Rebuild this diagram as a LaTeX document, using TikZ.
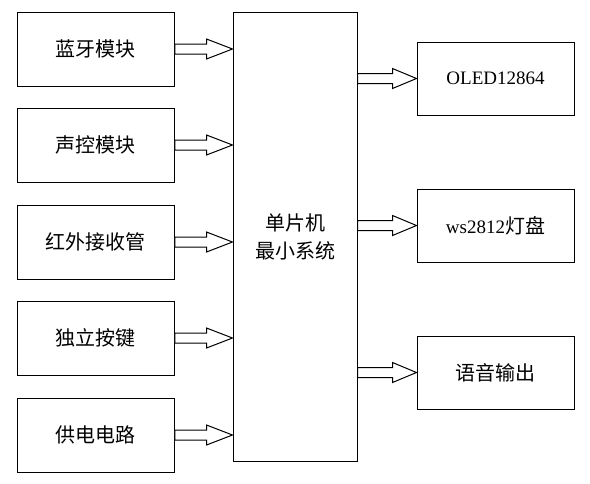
\documentclass[tikz,border=0pt]{standalone}
\usepackage{fontspec}
\setmainfont{Liberation Serif}
\newfontfamily\cjk{Noto Sans CJK SC}
\usetikzlibrary{calc}
\tikzset{
  box/.style={draw=black, line width=1pt, fill=white, inner sep=0pt, align=center,
    font=\fontsize{19}{28}\selectfont},
  lbox/.style={box, minimum width=157pt, minimum height=74pt},
  rbox/.style={box, minimum width=157pt, minimum height=73pt},
  fat/.style={draw=black, line width=1pt, fill=white, line join=miter},
}
\newcommand{\cj}{\cjk\fontsize{20}{28}\selectfont}
% block arrow from node #1 (east) to node #2 (west), at the height of node #3, head length #4
\newcommand{\blockarr}[4]{%
  \draw[fat] let \p1=(#1.east), \p2=(#2.west), \p3=(#3.center) in
    (\x1,\y3+5pt) -- (\x2-#4,\y3+5pt) -- (\x2-#4,\y3+10pt) -- (\x2,\y3)
    -- (\x2-#4,\y3-10pt) -- (\x2-#4,\y3-5pt) -- (\x1,\y3-5pt) -- cycle;}
\begin{document}
\begin{tikzpicture}[x=1pt,y=-1pt]
\useasboundingbox (0,0) rectangle (590,483);
\node[lbox] (l1) at (95.75,49) {\cj 蓝牙模块};
\node[lbox] (l2) at (95.75,145) {\cj 声控模块};
\node[lbox] (l3) at (95.75,242) {\cj 红外接收管};
\node[lbox] (l4) at (95.75,338) {\cj 独立按键};
\node[lbox] (l5) at (95.75,435) {\cj 供电电路};
\node[box, minimum width=124pt, minimum height=449pt] (mcu) at (295,236.5) {\cj 单片机\\\cj 最小系统};
\node[rbox] (r1) at (495.5,78.5) {OLED12864};
\node[rbox] (r2) at (495.5,225.5) {ws2812{\cj 灯盘}};
\node[rbox] (r3) at (495.5,372.5) {\cj 语音输出};
\foreach \nd in {l1,l2,l3,l4,l5} {\blockarr{\nd}{mcu}{\nd}{26pt}}
\foreach \nd in {r1,r2,r3} {\blockarr{mcu}{\nd}{\nd}{24pt}}
\end{tikzpicture}
\end{document}
